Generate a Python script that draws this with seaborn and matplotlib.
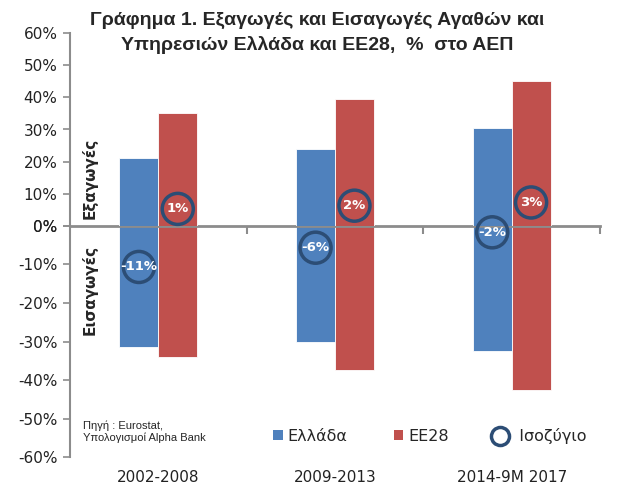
import pandas as pd
import matplotlib.pyplot as plt
import matplotlib.transforms as mtransforms
import seaborn as sns
from matplotlib.lines import Line2D
from matplotlib.patches import Patch

# data (% of GDP)
periods = ["2002-2008", "2009-2013", "2014-9M 2017"]
regions = ["Ελλάδα", "ΕΕ28"]
exports_gr = [21.0, 24.0, 30.5]
exports_eu = [35.0, 39.5, 45.0]
imports_gr = [-31.5, -30.0, -32.5]
imports_eu = [-34.0, -37.5, -42.5]
balance_gr = [-11, -6, -2]
balance_eu = [1, 2, 3]

blue = "#4F81BD"
red = "#C0504D"
ring = "#2C4D75"
grey = "#8C8C8C"

sns.set_theme(style="white")
plt.rcParams["font.family"] = ["DejaVu Sans"]

exp_df = pd.DataFrame({
    "period": periods * 2,
    "region": [regions[0]] * 3 + [regions[1]] * 3,
    "value": exports_gr + exports_eu,
})
imp_df = pd.DataFrame({
    "period": periods * 2,
    "region": [regions[0]] * 3 + [regions[1]] * 3,
    "value": imports_gr + imports_eu,
})

fig = plt.figure(figsize=(6.39, 4.86), dpi=100)
left, right = 70 / 639, 600 / 639
y_top, y_zero, y_bot = 1 - 33 / 486, 1 - 226 / 486, 1 - 457 / 486
ax_dn = fig.add_axes([left, y_bot, right - left, y_zero - y_bot])
ax_up = fig.add_axes([left, y_zero, right - left, y_top - y_zero])

palette = {regions[0]: blue, regions[1]: red}
sns.barplot(data=exp_df, x="period", y="value", hue="region", palette=palette,
            width=0.44, ax=ax_up, legend=False, edgecolor="white", linewidth=0.6,
            saturation=1)
sns.barplot(data=imp_df, x="period", y="value", hue="region", palette=palette,
            width=0.44, ax=ax_dn, legend=False, edgecolor="white", linewidth=0.6,
            saturation=1)

tick_font = dict(fontsize=11, color="#222222")
ax_up.set_ylim(0, 60)
ax_up.set_yticks(range(0, 61, 10))
ax_up.set_yticklabels([f"{v}%" for v in range(0, 61, 10)], **tick_font)
ax_dn.set_ylim(-60, 0)
ax_dn.set_yticks(range(-60, 1, 10))
ax_dn.set_yticklabels([f"{v}%" for v in range(-60, 1, 10)], **tick_font)

for ax in (ax_up, ax_dn):
    ax.set_xlim(-0.5, 2.5)
    ax.set_xlabel("")
    ax.set_ylabel("")
    ax.patch.set_alpha(0)
    for s in ("top", "right", "bottom"):
        ax.spines[s].set_visible(False)
    ax.spines["left"].set_color(grey)
    ax.spines["left"].set_linewidth(1.5)
    ax.tick_params(axis="y", which="major", left=True, direction="out",
                   length=5, width=1.2, color=grey, pad=4)

ax_up.set_xticks([])
ax_dn.spines["top"].set_visible(True)
ax_dn.spines["top"].set_color(grey)
ax_dn.spines["top"].set_linewidth(2)
ax_dn.set_xticks(range(len(periods)))
ax_dn.set_xticklabels(periods, fontsize=11, color="#222222")
ax_dn.set_xticks([0.5, 1.5, 2.5], minor=True)
ax_dn.tick_params(axis="x", which="major", bottom=False, top=False,
                  labelbottom=True, pad=3)
ax_dn.tick_params(axis="x", which="minor", top=True, bottom=False,
                  direction="in", length=6, width=1.5, color=grey)

# balance rings on an overlay so no bar covers them; value taken on the
# matching half axis, label nudged away from the zero line
ax_ring = fig.add_axes([0, 0, 1, 1])
ax_ring.axis("off")
ax_ring.patch.set_alpha(0)
offs = 0.11
for vals, shift in ((balance_gr, -offs), (balance_eu, offs)):
    for i, v in enumerate(vals):
        ax = ax_up if v >= 0 else ax_dn
        dy = 10 / 72 if v >= 0 else 1 / 72
        tr = ax.transData + mtransforms.ScaledTranslation(0, dy, fig.dpi_scale_trans)
        ax_ring.scatter([i + shift], [v], s=500, facecolors="none", edgecolors=ring,
                        linewidths=2.5, zorder=5, clip_on=False, transform=tr)
        ax_ring.text(i + shift, v, f"{v}%", ha="center", va="center", color="white",
                     fontsize=9.5, fontweight="bold", zorder=6, transform=tr)
ax_ring.set_xlim(0, 1)
ax_ring.set_ylim(0, 1)

# side labels
fig.text(90 / 639, 1 - 178 / 486, "Εξαγωγές", rotation=90, ha="center",
         va="center", fontsize=11, fontweight="bold")
fig.text(90 / 639, 1 - 290 / 486, "Εισαγωγές", rotation=90, ha="center",
         va="center", fontsize=11, fontweight="bold")

# title
fig.text(317 / 639, 1 - 33 / 486,
         "Γράφημα 1. Εξαγωγές και Εισαγωγές Αγαθών και\nΥπηρεσιών Ελλάδα και ΕΕ28,  %  στο ΑΕΠ",
         ha="center", va="center", fontsize=14, fontweight="bold",
         family=["Liberation Sans Narrow", "Liberation Sans", "DejaVu Sans"],
         linespacing=1.45)

# source note
fig.text(83 / 639, 1 - 432 / 486, "Πηγή : Eurostat,\nΥπολογισμοί Alpha Bank",
         ha="left", va="center", fontsize=8,
         family=["Liberation Sans", "DejaVu Sans"], linespacing=1.2)

# legend
handles = [
    Patch(facecolor=blue, edgecolor="none", label="Ελλάδα"),
    Patch(facecolor=red, edgecolor="none", label="ΕΕ28"),
    Line2D([], [], marker="o", linestyle="none", markersize=13,
           markerfacecolor="none", markeredgecolor=ring, markeredgewidth=2.5,
           label="  Ισοζύγιο"),
]
fig.legend(handles=handles, loc="center left",
           bbox_to_anchor=(265 / 639, 1 - 436 / 486),
           ncol=3, frameon=False, fontsize=11.5, handlelength=0.6,
           handleheight=0.6, handletextpad=0.3, columnspacing=2.9,
           borderpad=0)

fig.savefig("out.png", dpi=100)
